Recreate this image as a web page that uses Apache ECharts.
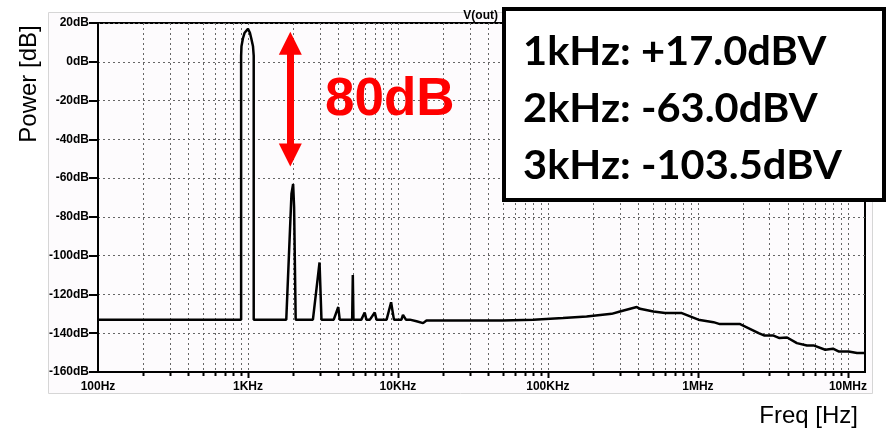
<!DOCTYPE html>
<html>
<head>
<meta charset="utf-8">
<script src="https://cdn.jsdelivr.net/npm/echarts@6/dist/echarts.min.js"></script>
<style>
  html, body { margin: 0; padding: 0; background: #fff; }
  #chart { width: 889px; height: 432px; }
</style>
</head>
<body>
<div id="chart"></div>
<script>
// spectrum trace, V(out)
const specFreq = [100, 900, 900, 905, 925, 950, 1000, 1030, 1052, 1080, 1092, 1092,
  1800, 1950, 2000, 2030, 2080, 2710, 3000, 3090, 3730, 4000, 4090, 4950, 5000, 5050,
  5700, 6000, 6160, 6500, 7000, 7190, 8400, 9000, 9400, 10550, 10800, 11300, 12000,
  13300, 14700, 15500, 50000, 80000, 126000, 181000, 266000, 302000, 391000, 411000,
  505000, 604000, 781000, 1007000, 1270000, 1400000, 1910000, 2540000, 2780000,
  3190000, 3500000, 3930000, 4570000, 5330000, 5900000, 7060000, 7950000, 8660000,
  10100000, 11500000, 13000000];
const specDb = [-133, -133, 3, 8, 12, 15, 17, 15, 12, 8, 3, -133,
  -133, -68, -63, -75, -133, -133, -103.5, -133, -133, -126.5, -133, -133, -110, -133,
  -133, -129.3, -133, -133, -129.3, -133, -133, -124, -133, -133, -130.5, -133, -133,
  -133.8, -134.8, -133.4, -133.4, -133, -132.2, -131.4, -130, -128.8, -126.5, -127.4,
  -128.8, -129.6, -129.6, -133, -134.3, -135.3, -135.3, -139.9, -141.2,
  -141.2, -142.5, -142.2, -145.1, -146.3, -146.3, -148.5, -148, -149.4,
  -149.4, -150.2, -150.2];

const xTickValues = [100, 1000, 10000, 100000, 1000000, 10000000];
const xTickLabels = ['100Hz', '1KHz', '10KHz', '100KHz', '1MHz', '10MHz'];
const yTickValues = [20, 0, -20, -40, -60, -80, -100, -120, -140, -160];

// 80dB marker between the 1kHz and 2kHz peaks
const arrowFreq = 1916;
const arrowEnds = [9.6, -48.1];

const infoLines = ['1kHz: +17.0dBV', '2kHz: -63.0dBV', '3kHz: -103.5dBV'];

// vertical grid lines at 2..9 of each decade
const gridFreqs = [];
for (let d = 100; d <= 10000000; d *= 10) {
  for (let k = 1; k <= 9; k++) {
    const f = d * k;
    if (f > 100 && f < 13000000) gridFreqs.push(f);
  }
}

const chart = echarts.init(document.getElementById('chart'));

const option = {
  animation: false,
  backgroundColor: '#fff',
  grid: {
    left: 98, right: 24, top: 23, bottom: 60,
    show: true,
    borderColor: '#000',
    borderWidth: 2,
    backgroundColor: '#fdfbfd'
  },
  xAxis: {
    type: 'log',
    logBase: 10,
    min: 100,
    max: 13000000,
    axisLine: { onZero: false, lineStyle: { color: '#000', width: 2 } },
    axisTick: { show: false },
    splitLine: { show: false },
    axisLabel: {
      margin: 9,
      color: '#000',
      fontFamily: 'Liberation Sans',
      fontWeight: 'bold',
      fontSize: 12,
      showMaxLabel: false,
      formatter: (v) => {
        const i = xTickValues.findIndex((t) => Math.abs(t - v) / t < 1e-6);
        return i >= 0 ? xTickLabels[i] : '';
      }
    }
  },
  yAxis: {
    type: 'value',
    min: -160,
    max: 20,
    interval: 20,
    axisLine: { show: true, onZero: false, lineStyle: { color: '#000', width: 2 } },
    axisTick: { show: true, length: 9, lineStyle: { color: '#000', width: 2 } },
    splitLine: { show: true, lineStyle: { color: '#666', width: 1, type: [2, 3] } },
    axisLabel: {
      margin: 9,
      color: '#000',
      fontFamily: 'Liberation Sans',
      fontWeight: 'bold',
      fontSize: 12,
      formatter: (v) => (yTickValues.includes(v) ? v + 'dB' : '')
    }
  },
  series: [
    {
      type: 'custom',
      silent: true,
      z: 1,
      data: gridFreqs.map((f) => [f, 0]),
      encode: { x: 0, y: 1 },
      renderItem: (params, api) => {
        const f = api.value(0);
        const p = api.coord([f, 0]);
        const cs = params.coordSys;
        const x = Math.round(p[0]) + 0.5;
        const decade = xTickValues.includes(f);
        return {
          type: 'group',
          children: [
            {
              type: 'line',
              shape: { x1: x, y1: cs.y, x2: x, y2: cs.y + cs.height },
              style: { stroke: '#666', lineWidth: 1, lineDash: [2, 3] }
            },
            {
              type: 'line',
              shape: { x1: x, y1: cs.y + cs.height, x2: x, y2: cs.y + cs.height + (decade ? 6 : 4) },
              style: { stroke: '#000', lineWidth: 2 }
            }
          ]
        };
      }
    },
    {
      name: 'V(out)',
      type: 'line',
      z: 3,
      showSymbol: false,
      lineStyle: { color: '#000', width: 2.5 },
      data: specFreq.map((f, i) => [f, specDb[i]]),
      markLine: {
        silent: true,
        symbol: ['triangle', 'triangle'],
        symbolSize: [23, 23],
        label: { show: false },
        lineStyle: { color: '#ff0000', width: 7, type: 'solid' },
        data: [[{ coord: [arrowFreq, arrowEnds[0]] }, { coord: [arrowFreq, arrowEnds[1]] }]]
      }
    }
  ],
  graphic: [
    {
      type: 'rect',
      z: -10,
      silent: true,
      shape: { x: 48.5, y: 12.5, width: 824, height: 381 },
      style: { fill: '#fdfbfd', stroke: '#d6d6d6', lineWidth: 1 }
    },
    {
      type: 'text',
      x: 29, y: 84,
      rotation: Math.PI / 2,
      style: {
        text: 'Power [dB]', fill: '#000',
        font: '24px "Liberation Sans"',
        align: 'center', verticalAlign: 'middle'
      }
    },
    {
      type: 'text',
      x: 858, y: 416,
      style: {
        text: 'Freq [Hz]', fill: '#000',
        font: '24px "Liberation Sans"',
        align: 'right', verticalAlign: 'middle'
      }
    },
    {
      type: 'text',
      x: 498, y: 16,
      style: {
        text: 'V(out)', fill: '#000',
        font: 'bold 12px "Liberation Sans"',
        align: 'right', verticalAlign: 'middle'
      }
    },
    {
      type: 'text',
      x: 325, y: 100,
      z: 50,
      style: {
        text: '80dB', fill: '#ff0000',
        font: 'bold 53px "Liberation Sans"',
        align: 'left', verticalAlign: 'middle'
      }
    },
    {
      type: 'group',
      z: 100,
      children: [
        {
          type: 'rect',
          z: 100,
          shape: { x: 504, y: 9, width: 380, height: 191 },
          style: { fill: '#fff', stroke: '#000', lineWidth: 4 }
        }
      ].concat(infoLines.map((t, i) => ({
        type: 'text',
        z: 101,
        x: 523, y: 52 + i * 57,
        scaleX: 1.04,
        style: {
          text: t, fill: '#000',
          font: 'bold 40px Lato',
          align: 'left', verticalAlign: 'middle'
        }
      })))
    }
  ]
};

chart.setOption(option);
</script>
</body>
</html>
